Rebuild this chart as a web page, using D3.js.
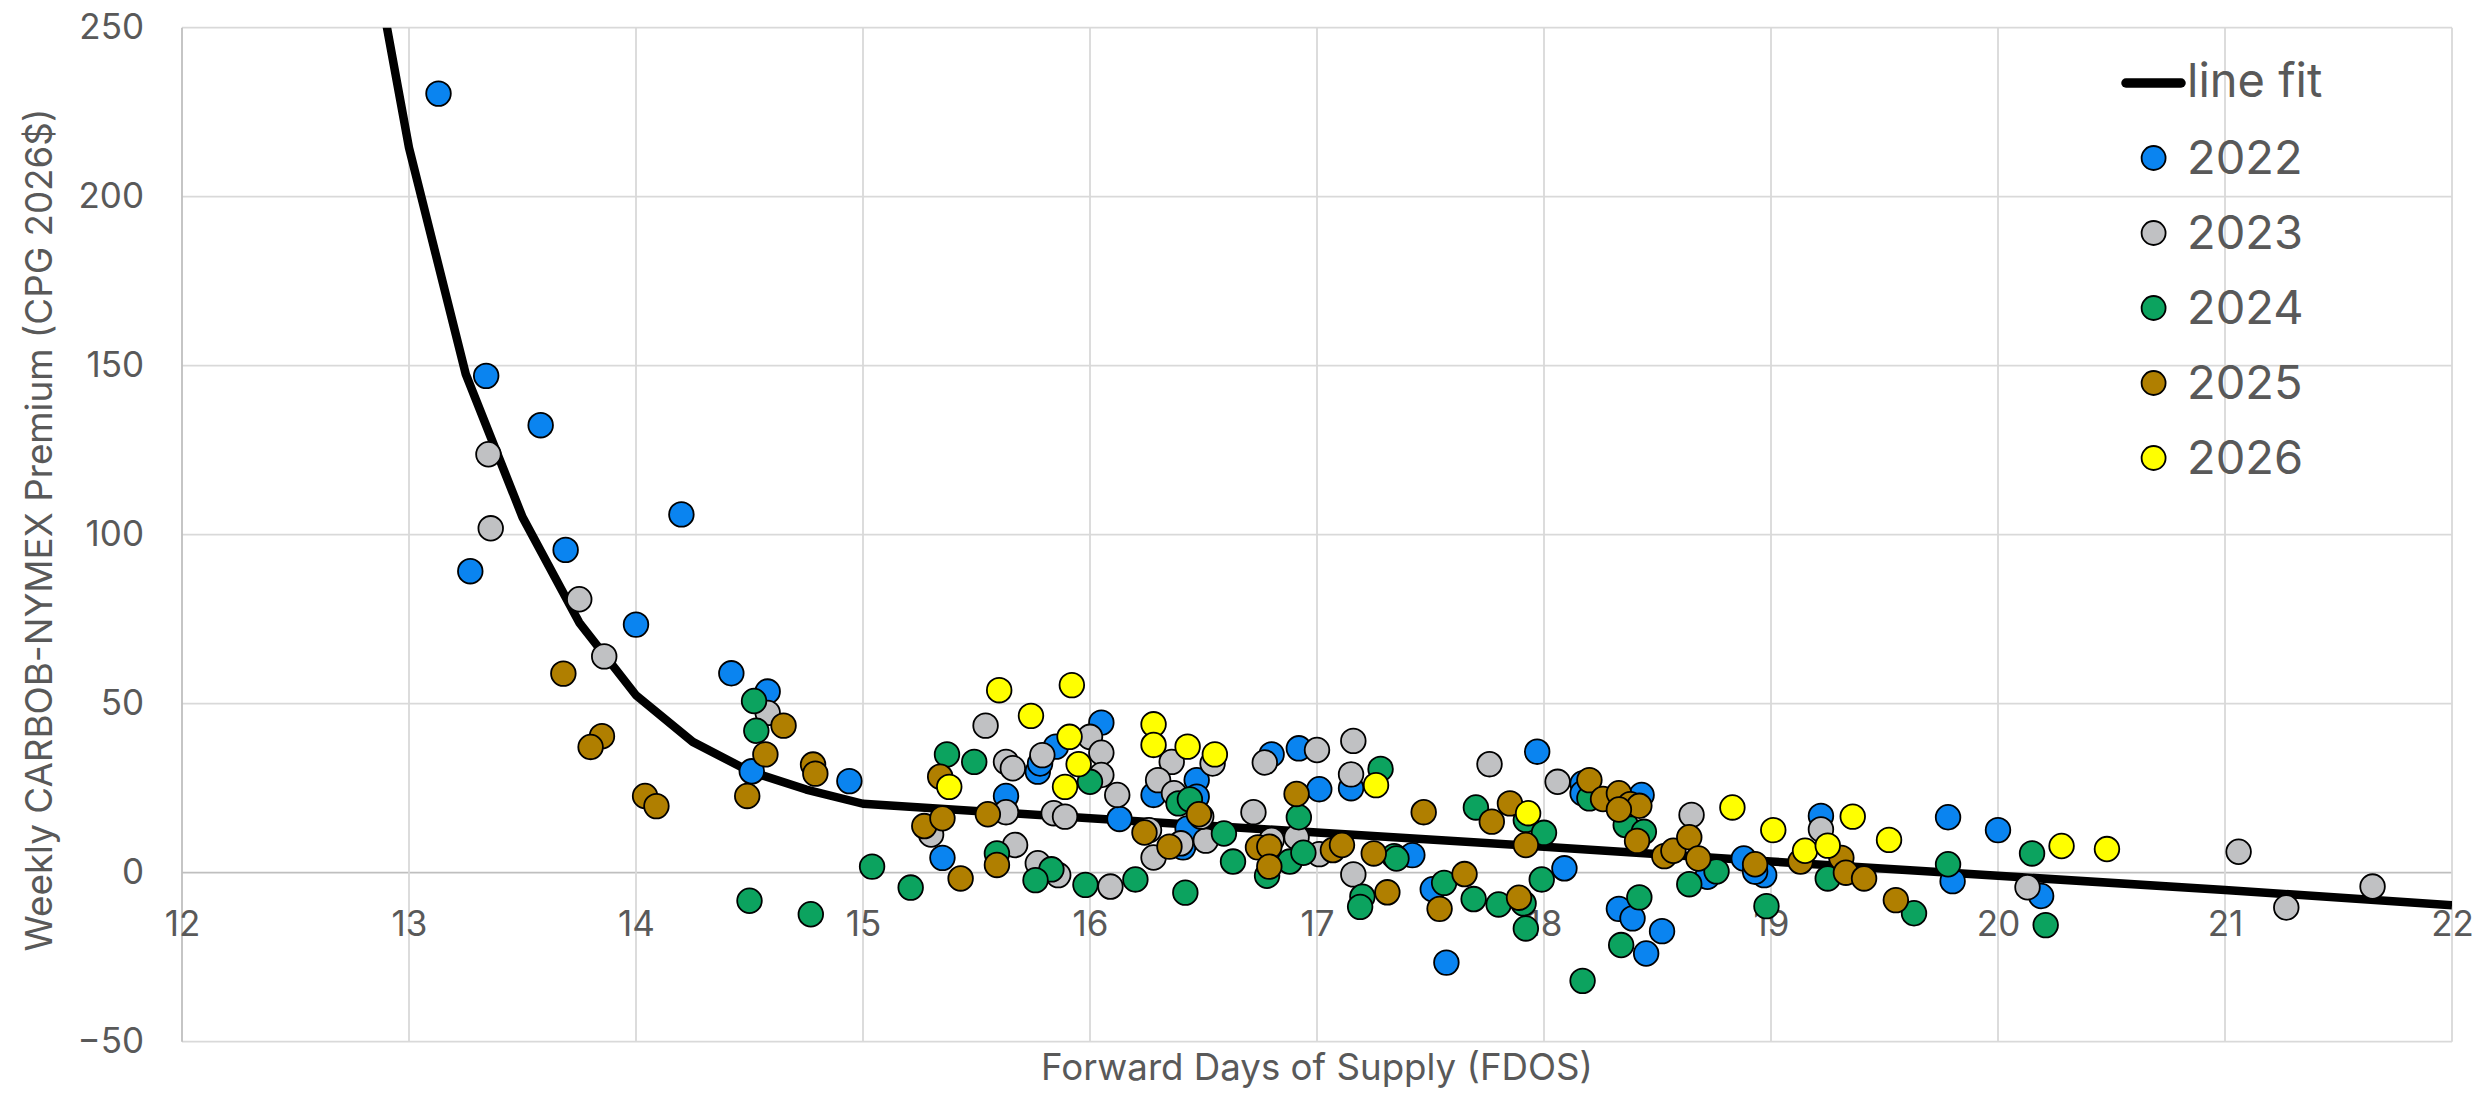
<!DOCTYPE html>
<html>
<head>
<meta charset="utf-8">
<script src="https://d3js.org/d3.v7.min.js"></script>
<style>
  body { margin: 0; background: #fff; }
  svg text { font-family: Inter, "Open Sans", sans-serif; fill: #595959; }
</style>
</head>
<body>
<div id="chart"></div>
<script>
// ---- data ----
const years = ['2022', '2023', '2024', '2025', '2026']
const yearColors = ['#0a84f0', '#c0c1c3', '#0ca35f', '#b07f00', '#ffff00']

const xTicks = [12, 13, 14, 15, 16, 17, 18, 19, 20, 21, 22]
const yTicks = [-50, 0, 50, 100, 150, 200, 250]

// line fit (vertices)
const fitX = [12.75, 13.0, 13.25, 13.5, 13.75, 14.0, 14.25, 14.5, 14.75, 15, 16, 17, 18, 19, 20, 21, 22]
const fitY = [306, 214.5, 147.5, 105.2, 74, 52.5, 38.7, 30, 24.6, 20.4, 16.1, 11.9, 7.7, 3.3, -0.9, -5.1, -9.6]

// weekly points [FDOS, premium]
const pts2022 = [[13.13,230.5],[13.34,147],[13.58,132.4],[13.27,89.2],[13.69,95.5],[14.2,106],[14.0,73.4],
  [14.42,59],[14.58,53.6],[14.51,30],[14.94,27.1],[15.35,4.4],[15.63,22.7],[15.77,29.9],[15.78,32.3],[15.85,37.3],
  [16.05,44.4],[16.13,15.9],[16.28,23],[16.47,27.4],[16.47,22.5],[16.43,13.1],[16.41,7.5],[16.8,35],[16.92,36.8],
  [17.01,24.7],[17.15,25],[17.42,5.2],[17.51,-4.9],[17.57,-26.6],[17.97,35.8],[18.09,1.3],[18.17,26.4],[18.17,23.5],
  [18.43,23],[18.72,-1.2],[18.33,-10.7],[18.39,-13.5],[18.52,-17.3],[18.45,-23.9],[18.88,4.2],[18.97,-0.7],
  [18.93,0.3],[19.22,16.8],[19.78,16.4],[19.8,-2.5],[20.0,12.6],[20.19,-6.9]]

const pts2023 = [[13.35,123.8],[13.36,101.9],[13.75,80.9],[13.86,64],[14.58,47.3],[15.3,11.3],[15.54,43.5],
  [15.63,32.8],[15.66,30.9],[15.63,17.9],[15.67,8.2],[15.77,2.8],[15.86,-0.7],[16.09,-4.1],[15.84,17.6],[15.89,16.6],
  [15.79,34.8],[16.0,40.2],[16.05,35.5],[16.05,28.9],[16.12,23],[16.26,12.6],[16.28,4.5],[16.4,8.7],[16.51,9.5],
  [16.36,32.8],[16.3,27.4],[16.37,23.5],[16.49,16.6],[16.54,32.3],[16.77,32.6],[16.72,17.9],[16.8,9.7],[16.91,10.5],
  [17.0,36.3],[17.16,39],[17.15,29.1],[17.01,5.5],[17.16,-0.5],[17.76,32.1],[18.06,26.9],[18.65,17.1],[19.22,12.8],
  [20.13,-4.3],[21.06,6.2],[21.27,-10.3],[21.65,-4.1]]

const pts2024 = [[14.52,50.8],[14.53,42],[14.5,-8.3],[14.77,-12.3],[15.04,1.8],[15.21,-4.4],[15.37,35],[15.49,32.8],
  [15.59,5.7],[15.83,1],[15.76,-2.2],[15.98,-3.6],[16.2,-2],[16.42,-5.9],[16.0,26.9],[16.39,20.5],[16.44,21.7],
  [16.59,11.6],[16.63,3.3],[16.78,-0.9],[16.88,3.3],[16.94,5.9],[16.92,16.4],[17.28,30.7],[17.2,-7.1],[17.19,-10.1],
  [17.34,4.9],[17.35,4.2],[17.56,-3],[17.69,-7.8],[17.8,-9.4],[17.91,-9.1],[17.92,-16.5],[17.7,19.3],[17.92,15.6],
  [18.0,11.8],[17.99,-2],[18.2,22],[18.36,14.1],[18.44,12.1],[18.42,-7.3],[18.34,-21.4],[18.17,-32],[18.64,-3.4],
  [18.76,0.4],[18.98,-9.9],[19.25,-1.7],[19.63,-12],[19.78,2.5],[20.15,5.7],[20.21,-15.5]]

const pts2025 = [[13.68,58.9],[13.85,40.4],[13.8,37.2],[14.65,43.5],[14.57,35],[14.78,32],[14.79,29.3],[14.04,22.7],
  [14.09,19.7],[14.49,22.7],[15.27,13.8],[15.35,16.1],[15.34,28.4],[15.43,-1.7],[15.55,17.3],[15.59,2.3],[16.24,11.9],
  [16.35,7.7],[16.48,17.3],[16.91,23.3],[16.74,7.5],[16.79,7.7],[16.79,1.8],[17.07,6.7],[17.11,8.2],[17.25,5.7],
  [17.31,-5.8],[17.47,17.9],[17.54,-10.7],[17.65,-0.4],[17.89,-7.4],[17.85,20.5],[17.77,15.1],[17.92,8.2],[18.2,27.4],
  [18.26,21.8],[18.33,23.5],[18.38,20.3],[18.42,19.8],[18.33,18.7],[18.41,9.4],[18.53,4.9],[18.57,6.5],[18.64,10.5],
  [18.68,4.2],[18.93,2.5],[19.13,3.3],[19.31,4.4],[19.33,0],[19.41,-1.7],[19.55,-8.1]]

const pts2026 = [[15.38,25.4],[15.6,54],[15.74,46.4],[15.92,55.5],[15.91,40.2],[15.95,32.1],[15.89,25.4],[16.28,43.9],
  [16.28,37.8],[16.43,37.3],[16.55,35],[17.26,25.9],[17.93,17.6],[18.83,19.3],[19.01,12.6],[19.15,6.5],[19.25,8],
  [19.36,16.6],[19.52,9.7],[20.28,7.9],[20.48,7]]

const seriesPts = [pts2022, pts2023, pts2024, pts2025, pts2026]

// ---- layout ----
width = 2492
height = 1094

x = d3.scaleLinear().domain([12, 22]).range([182, 2452])
y = d3.scaleLinear().domain([-50, 250]).range([1041.7, 27.7])

svg = d3.select('#chart')
  .append('svg')
  .attr('width', width)
  .attr('height', height)

// gridlines
svg.append('g')
  .selectAll('line.hgrid')
  .data(yTicks)
  .join('line')
  .attr('x1', x(12)).attr('x2', x(22))
  .attr('y1', d => y(d)).attr('y2', d => y(d))
  .attr('stroke', d => d === 0 ? '#bfbfbf' : '#d9d9d9')
  .attr('stroke-width', 1.8)

svg.append('g')
  .selectAll('line.vgrid')
  .data(xTicks)
  .join('line')
  .attr('x1', d => x(d)).attr('x2', d => x(d))
  .attr('y1', y(250)).attr('y2', y(-50))
  .attr('stroke', d => d === 12 ? '#bfbfbf' : '#d9d9d9')
  .attr('stroke-width', 1.8)

// axes (labels only)
xAxis = d3.axisBottom(x).tickValues(xTicks).tickSize(0).tickFormat(d3.format('d'))
yAxis = d3.axisLeft(y).tickValues(yTicks).tickSize(0).tickFormat(d3.format('d'))

gx = svg.append('g')
  .attr('transform', `translate(0 ${y(0)})`)
  .call(xAxis)
gx.select('.domain').remove()
gx.selectAll('text')
  .attr('dy', null)
  .attr('y', 63)
  .attr('font-size', '35px')
  .attr('font-family', null)
  .attr('fill', null)

gy = svg.append('g')
  .attr('transform', `translate(${x(12)} 0)`)
  .call(yAxis)
gy.select('.domain').remove()
gy.selectAll('text')
  .attr('dy', null)
  .attr('x', -38)
  .attr('y', 10.5)
  .attr('font-size', '35px')
  .attr('font-family', null)
  .attr('fill', null)

// axis titles, sized so their length matches the original
function fitText(sel, target) {
  const len = sel.node().getComputedTextLength()
  const fs = parseFloat(sel.attr('font-size'))
  sel.attr('font-size', (fs * target / len).toFixed(2) + 'px')
}

xTitle = svg.append('text')
  .attr('x', (x(12) + x(22)) / 2)
  .attr('y', 1080)
  .attr('text-anchor', 'middle')
  .attr('font-size', '35px')
  .text('Forward Days of Supply (FDOS)')
fitText(xTitle, 552)

yTitle = svg.append('text')
  .attr('transform', 'translate(52 530) rotate(-90)')
  .attr('text-anchor', 'middle')
  .attr('font-size', '35px')
  .text('Weekly CARBOB-NYMEX Premium (CPG 2026$)')
fitText(yTitle, 843)

// clip for line fit
svg.append('clipPath')
  .attr('id', 'plotclip')
  .append('rect')
  .attr('x', x(12)).attr('y', y(250))
  .attr('width', x(22) - x(12)).attr('height', y(-50) - y(250))

line = d3.line()
  .x(d => x(d[0]))
  .y(d => y(d[1]))

svg.append('path')
  .datum(fitX.map((v, i) => [v, fitY[i]]))
  .attr('clip-path', 'url(#plotclip)')
  .attr('d', line)
  .attr('fill', 'none')
  .attr('stroke', 'black')
  .attr('stroke-width', 8.5)
  .attr('stroke-linejoin', 'round')

// points, one group per year
seriesPts.forEach((pts, i) => {
  svg.append('g')
    .attr('class', 'yr' + years[i])
    .selectAll('circle')
    .data(pts)
    .join('circle')
    .attr('cx', d => x(d[0]))
    .attr('cy', d => y(d[1]))
    .attr('r', 12.3)
    .attr('fill', yearColors[i])
    .attr('stroke', 'black')
    .attr('stroke-width', 1.8)
})

// legend
legend = svg.append('g')
legend.append('line')
  .attr('x1', 2126).attr('x2', 2181)
  .attr('y1', 83).attr('y2', 83)
  .attr('stroke', 'black')
  .attr('stroke-width', 9.5)
  .attr('stroke-linecap', 'round')
legend.append('text')
  .attr('x', 2187).attr('y', 97)
  .attr('font-size', '47px')
  .text('line fit')

legendY = d3.scalePoint().domain(years).range([158, 458])

legend.selectAll('circle')
  .data(years)
  .join('circle')
  .attr('cx', 2153.6)
  .attr('cy', d => legendY(d))
  .attr('r', 12)
  .attr('fill', (d, i) => yearColors[i])
  .attr('stroke', 'black')
  .attr('stroke-width', 1.8)

legend.selectAll('text.yr')
  .data(years)
  .join('text')
  .attr('class', 'yr')
  .attr('x', 2187)
  .attr('y', d => legendY(d) + 16)
  .attr('font-size', '47px')
  .text(d => d)
</script>
</body>
</html>
